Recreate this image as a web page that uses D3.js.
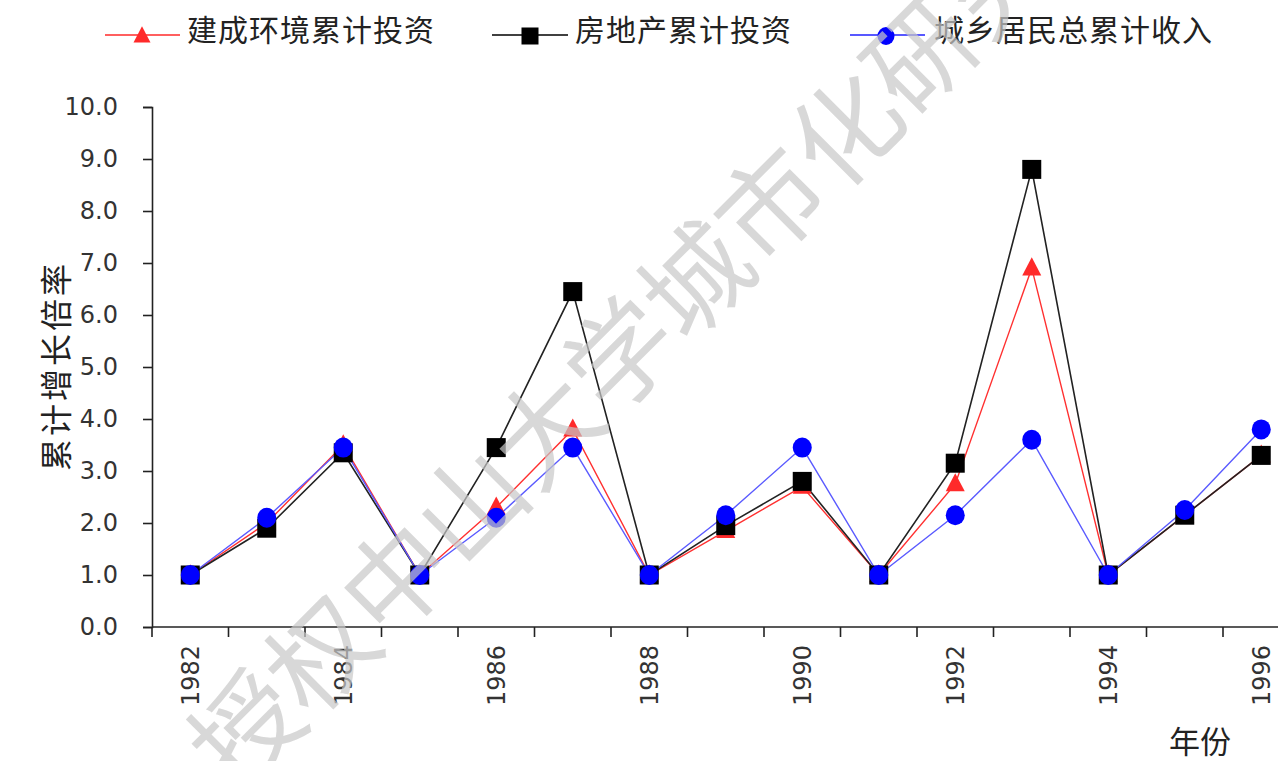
<!DOCTYPE html>
<html>
<head>
<meta charset="utf-8">
<script src="https://cdn.jsdelivr.net/npm/d3@7/dist/d3.min.js"></script>
<style>
  html, body { margin: 0; padding: 0; background: #fff; }
  svg { display: block; }
</style>
</head>
<body>
<svg id="chart" width="1278" height="761"></svg>
<script>
const years = [1982,1983,1984,1985,1986,1987,1988,1989,1990,1991,1992,1993,1994,1995,1996];
const builtEnv   = [1.0, 2.0, 3.5, 1.0, 2.3, 3.8, 1.0, 1.85, 2.7, 1.0, 2.75, 6.9, 1.0, 2.15, 3.3];
const realEstate = [1.0, 1.9, 3.35, 1.0, 3.45, 6.45, 1.0, 1.95, 2.8, 1.0, 3.15, 8.8, 1.0, 2.15, 3.3];
const income     = [1.0, 2.1, 3.45, 1.0, 2.1, 3.45, 1.0, 2.15, 3.45, 1.0, 2.15, 3.6, 1.0, 2.25, 3.8];
const seriesNames = ["建成环境累计投资", "房地产累计投资", "城乡居民总累计收入"];
const yTicks = [0,1,2,3,4,5,6,7,8,9,10];
const xLabelYears = [1982,1984,1986,1988,1990,1992,1994,1996];
const yTitle = "累计增长倍率";
const xTitle = "年份";
const watermark = "授权中山大学城市化研究院";

const svg = d3.select("#chart");
const W = 1278, H = 761;
const numFont = "'DejaVu Sans', sans-serif";
const cjkFont = "'Noto Sans CJK SC', sans-serif";

const x0 = 152, step = 76.5;
const xBand = d3.scaleBand().domain(years).range([x0, x0 + step * years.length]).padding(0);
const xc = d => xBand(d) + xBand.bandwidth() / 2;
const y = d3.scaleLinear().domain([0, 10]).range([627, 107]);

// Y axis
const yAxis = d3.axisLeft(y).tickValues(yTicks).tickFormat(d3.format(".1f")).tickSize(9).tickPadding(25);
const gy = svg.append("g").attr("transform", `translate(${x0},0)`).call(yAxis);
gy.select(".domain").attr("stroke", "#222").attr("stroke-width", 1.6);
gy.selectAll(".tick line").attr("stroke", "#222").attr("stroke-width", 1.6);
gy.selectAll(".tick text").attr("font-family", numFont).attr("font-size", 24).attr("fill", "#333");

// X axis line + boundary ticks
const gx = svg.append("g");
gx.append("line").attr("x1", x0).attr("x2", W).attr("y1", y(0)).attr("y2", y(0))
  .attr("stroke", "#222").attr("stroke-width", 1.6);
gx.selectAll("line.tk").data(years).join("line").attr("class", "tk")
  .attr("x1", d => xBand(d)).attr("x2", d => xBand(d))
  .attr("y1", y(0)).attr("y2", y(0) + 10)
  .attr("stroke", "#222").attr("stroke-width", 1.6);
gx.selectAll("text.xl").data(xLabelYears).join("text").attr("class", "xl")
  .attr("transform", d => `translate(${xc(d)},${y(0) + 18}) rotate(-90)`)
  .attr("text-anchor", "end").attr("dy", "0.36em")
  .attr("font-family", numFont).attr("font-size", 24).attr("fill", "#333")
  .text(d => d);

// Axis titles
svg.append("text").attr("transform", "translate(57,366) rotate(-90)")
  .attr("text-anchor", "middle").attr("dy", "0.35em")
  .attr("font-family", cjkFont).attr("font-size", 32).attr("letter-spacing", 3)
  .attr("fill", "#222").text(yTitle);
svg.append("text").attr("x", 1200).attr("y", 742).attr("text-anchor", "middle").attr("dy", "0.35em")
  .attr("font-family", cjkFont).attr("font-size", 31).attr("fill", "#222").text(xTitle);

// Series
const series = [
  { name: seriesNames[0], values: builtEnv, color: "#ff2a2a", line: "#ff3030", width: 1.4, shape: "tri" },
  { name: seriesNames[1], values: realEstate, color: "#000000", line: "#222222", width: 1.6, shape: "sq" },
  { name: seriesNames[2], values: income, color: "#0000ff", line: "#5a5aff", width: 1.4, shape: "circ" }
];
const lineGen = d3.line().x((d, i) => xc(years[i])).y(d => y(d));

function drawMarker(g, shape, color, cx, cy, s) {
  if (shape === "tri") {
    const h = s * 0.95, w = s;
    g.append("path").attr("d", `M${cx},${cy - h * 0.6}L${cx + w / 2},${cy + h * 0.4}L${cx - w / 2},${cy + h * 0.4}Z`).attr("fill", color);
  } else if (shape === "sq") {
    g.append("rect").attr("x", cx - s / 2).attr("y", cy - s / 2).attr("width", s).attr("height", s).attr("fill", color);
  } else {
    g.append("ellipse").attr("cx", cx).attr("cy", cy).attr("rx", s / 2).attr("ry", s / 2 + 0.5).attr("fill", color);
  }
}

series.forEach(s => {
  svg.append("path").datum(s.values).attr("d", lineGen)
    .attr("fill", "none").attr("stroke", s.line).attr("stroke-width", s.width);
});
series.forEach(s => {
  const g = svg.append("g");
  s.values.forEach((v, i) => drawMarker(g, s.shape, s.color, xc(years[i]), y(v), 19));
});

// Legend
const legendItems = [
  { x1: 105, x2: 180, mx: 142, tx: 187 },
  { x1: 492, x2: 568, mx: 530, tx: 575 },
  { x1: 850, x2: 925, mx: 886, tx: 934 }
];
series.forEach((s, i) => {
  const L = legendItems[i];
  const g = svg.append("g");
  g.append("line").attr("x1", L.x1).attr("x2", L.x2).attr("y1", 35).attr("y2", 35)
    .attr("stroke", s.color === "#0000ff" ? "#2020ff" : s.color).attr("stroke-width", 1.6);
  drawMarker(g, s.shape, s.color, L.mx, 36, 17);
  g.append("text").attr("x", L.tx).attr("y", 30).attr("dy", "0.35em")
    .attr("font-family", cjkFont).attr("font-size", 30).attr("letter-spacing", 1)
    .attr("fill", "#222").text(s.name);
});

// Watermark
svg.append("text")
  .attr("transform", "translate(247,730) rotate(-45)")
  .attr("x", -53).attr("dy", "0.36em")
  .attr("font-family", cjkFont).attr("font-size", 106)
  .attr("fill", "#c8c8c8").attr("fill-opacity", 0.7)
  .text(watermark);
</script>
</body>
</html>
